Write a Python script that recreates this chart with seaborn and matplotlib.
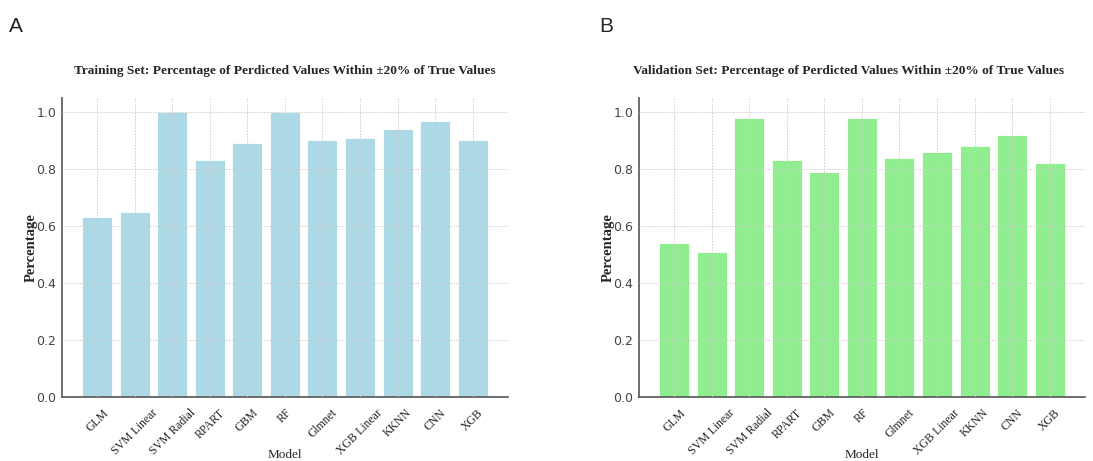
import matplotlib
matplotlib.use("Agg")
import matplotlib.pyplot as plt
import seaborn as sns
import pandas as pd

models = ["GLM", "SVM Linear", "SVM Radial", "RPART", "GBM", "RF",
          "Glmnet", "XGB Linear", "KKNN", "CNN", "XGB"]
train_pct = [0.63, 0.65, 1.00, 0.83, 0.89, 1.00, 0.90, 0.91, 0.94, 0.97, 0.90]
valid_pct = [0.54, 0.51, 0.98, 0.83, 0.79, 0.98, 0.84, 0.86, 0.88, 0.92, 0.82]
yticks = [0.0, 0.2, 0.4, 0.6, 0.8, 1.0]

sns.set_style("white")
plt.rcParams["font.family"] = ["DejaVu Sans"]

fig = plt.figure(figsize=(10.93, 4.61), dpi=100)
ax1 = fig.add_axes([0.0567, 0.139, 0.408, 0.649])
ax2 = fig.add_axes([0.5846, 0.139, 0.408, 0.649])

serif = ["Liberation Serif", "DejaVu Serif"]

panels = [
    (ax1, train_pct, "#ADD8E6",
     "Training Set: Percentage of Perdicted Values Within \u00b120% of True Values", "A", 0.5),
    (ax2, valid_pct, "#90EE90",
     "Validation Set: Percentage of Perdicted Values Within \u00b120% of True Values", "B", 0.47),
]

for ax, vals, col, title, letter, tx in panels:
    df = pd.DataFrame({"Model": models, "Percentage": vals})
    sns.barplot(data=df, x="Model", y="Percentage", color=col, saturation=1,
                width=0.8, edgecolor="white", linewidth=0.6, ax=ax)
    ax.set_xlim(-0.94, len(models) - 1 + 0.94)
    ax.set_ylim(0, 1.05)
    ax.set_yticks(yticks)
    ax.set_yticklabels([f"{t:.1f}" for t in yticks], fontsize=9, color="#444444")
    ax.set_xticks(range(len(models)))
    ax.set_xticklabels(models, rotation=45, ha="center", fontsize=8.5,
                       family=serif, color="#222222")
    ax.set_axisbelow(False)
    ax.grid(True, linestyle=(0, (2, 1.5)), color="#cccccc", linewidth=0.6)
    for s in ["top", "right"]:
        ax.spines[s].set_visible(False)
    for s in ["left", "bottom"]:
        ax.spines[s].set_color("#555555")
        ax.spines[s].set_linewidth(1.2)
    ax.tick_params(axis="x", length=3, width=0.6, color="#777777", direction="in", pad=7)
    ax.tick_params(axis="y", length=0, pad=4)
    ax.set_title(title, family=serif, fontweight="bold", fontsize=9.6, pad=17, x=tx)
    ax.set_xlabel("Model", family=serif, fontsize=9.5, labelpad=-6)
    ax.set_ylabel("Percentage", family=serif, fontweight="bold", fontsize=10.5, labelpad=-1)

fig.text(0.008, 0.93, "A", fontsize=15, family=["Liberation Sans", "DejaVu Sans"])
fig.text(0.548, 0.93, "B", fontsize=15, family=["Liberation Sans", "DejaVu Sans"])

fig.savefig("out.png", dpi=100)
